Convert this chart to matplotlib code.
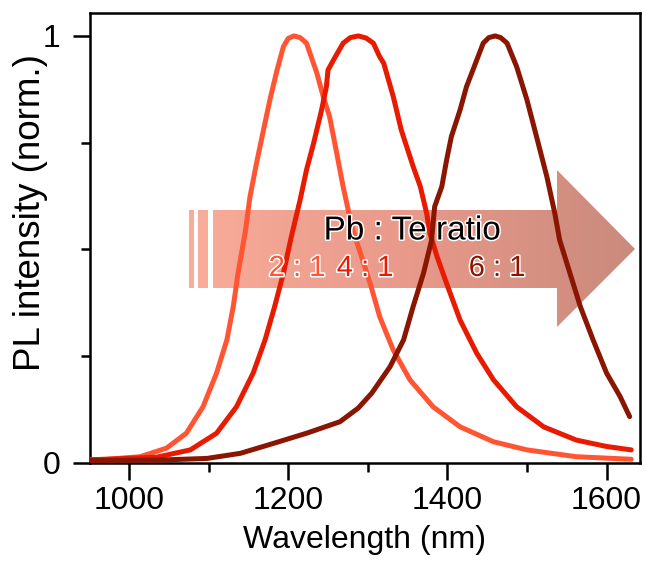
import numpy as np
import matplotlib
matplotlib.use("Agg")
import matplotlib.pyplot as plt
from matplotlib.patches import Polygon, Rectangle
from matplotlib.colors import LinearSegmentedColormap
import matplotlib.patheffects as pe

plt.rcParams['font.family'] = ['Liberation Sans', 'DejaVu Sans']

# ---- data ----
wl_21 = [951, 972, 1014, 1047, 1072, 1093, 1110, 1123, 1131, 1137, 1146, 1152, 1160, 1169,
         1177, 1186, 1194, 1200, 1207, 1215, 1223, 1236, 1244, 1252, 1261, 1269, 1280, 1303,
         1315, 1332, 1353, 1382, 1416, 1458, 1500, 1562, 1631]
pl_21 = [0.007, 0.008, 0.014, 0.034, 0.069, 0.131, 0.210, 0.288, 0.366, 0.444, 0.540, 0.623, 0.700, 0.780,
         0.850, 0.920, 0.975, 0.994, 1.0, 0.996, 0.983, 0.913, 0.858, 0.811, 0.725, 0.647, 0.553, 0.420,
         0.342, 0.264, 0.194, 0.131, 0.084, 0.049, 0.030, 0.014, 0.008]

wl_41 = [951, 972, 1035, 1077, 1110, 1135, 1156, 1171, 1183, 1194, 1204, 1215, 1223, 1232,
         1242, 1248, 1250, 1257, 1269, 1278, 1288, 1298, 1307, 1315, 1320, 1332, 1342, 1357,
         1366, 1374, 1378, 1387, 1399, 1416, 1437, 1458, 1487, 1521, 1562, 1600, 1631]
pl_41 = [0.007, 0.008, 0.013, 0.030, 0.069, 0.131, 0.210, 0.288, 0.366, 0.444, 0.530, 0.616, 0.686, 0.749,
         0.827, 0.881, 0.920, 0.944, 0.983, 0.996, 1.0, 0.995, 0.983, 0.951, 0.936, 0.858, 0.780, 0.694,
         0.647, 0.584, 0.538, 0.483, 0.420, 0.334, 0.256, 0.194, 0.131, 0.084, 0.053, 0.038, 0.030]

wl_61 = [951, 1035, 1098, 1140, 1181, 1223, 1265, 1288, 1305, 1328, 1345, 1357, 1370, 1380,
         1384, 1393, 1399, 1405, 1416, 1424, 1437, 1445, 1452, 1460, 1467, 1475, 1487, 1500,
         1512, 1525, 1535, 1541, 1554, 1567, 1583, 1600, 1617, 1629]
pl_61 = [0.005, 0.006, 0.010, 0.022, 0.045, 0.069, 0.096, 0.128, 0.163, 0.225, 0.288, 0.366, 0.444, 0.520,
         0.600, 0.647, 0.709, 0.764, 0.827, 0.881, 0.944, 0.983, 0.996, 1.0, 0.996, 0.983, 0.928, 0.850,
         0.764, 0.670, 0.584, 0.522, 0.444, 0.366, 0.288, 0.210, 0.155, 0.108]

ratio_labels = ["2 : 1", "4 : 1", "6 : 1"]
colors = ["#FF5533", "#E81A00", "#8A1500"]

# ---- figure ----
fig = plt.figure(figsize=(6.46, 5.61), dpi=100)
ax = fig.add_axes([90/646, 1 - 462.7/561, 550/646, 449.4/561])

for wl, pl, c in zip([wl_21, wl_41, wl_61], [pl_21, pl_41, pl_61], colors):
    ax.plot(wl, pl, color=c, lw=3.6, zorder=3, solid_capstyle='round', solid_joinstyle='round')

XLIM = (951, 1642)
YLIM = (0, 1.053)
ax.set_xlim(*XLIM)
ax.set_ylim(*YLIM)

ax.set_xticks([1000, 1200, 1400, 1600])
ax.set_xticks([1100, 1300, 1500], minor=True)
ax.set_yticks([0, 1])
ax.set_yticklabels(["0", "1"])
ax.set_yticks([0.25, 0.5, 0.75], minor=True)
ax.tick_params(axis='both', which='major', length=12, width=1.8, labelsize=23, direction='out')
ax.tick_params(axis='x', which='major', pad=5)
ax.tick_params(axis='y', which='major', pad=9)
ax.tick_params(axis='both', which='minor', length=6.5, width=1.8, direction='out')
for s in ax.spines.values():
    s.set_linewidth(1.8)

ax.set_xlabel("Wavelength (nm)", fontsize=23, labelpad=6)


# ---- gradient arrow (axes coordinates) ----
def fx(px):
    return (px - 90) / 550.0


def fy(py):
    return (462.7 - py) / 449.4


ax.text(fx(30), fy(213), "PL intensity (norm.)", transform=ax.transAxes, rotation=90,
        ha='center', va='center', fontsize=26.5)

arrow_pts = [(fx(213), fy(210)), (fx(557), fy(210)), (fx(557), fy(170)), (fx(635), fy(249)),
             (fx(557), fy(327)), (fx(557), fy(288)), (fx(213), fy(288))]
cmap = LinearSegmentedColormap.from_list("arr", ["#F9AC9A", "#E8998A", "#C98A7C"])
grad = np.linspace(0, 1, 256).reshape(1, -1)
poly = Polygon(arrow_pts, closed=True, transform=ax.transAxes, facecolor='none', edgecolor='none')
ax.add_patch(poly)
im = ax.imshow(grad, cmap=cmap, aspect='auto', extent=[fx(189), fx(636), fy(330), fy(168)],
               transform=ax.transAxes, zorder=1, interpolation='bilinear')
im.set_clip_path(poly)
for x0, x1 in [(189, 194), (198, 208)]:
    ax.add_patch(Rectangle((fx(x0), fy(288)), fx(x1) - fx(x0), fy(210) - fy(288),
                           transform=ax.transAxes, facecolor="#F9AC9A", edgecolor='none', zorder=1))
ax.set_xlim(*XLIM)
ax.set_ylim(*YLIM)
ax.set_aspect('auto')

stroke = [pe.withStroke(linewidth=2.2, foreground='white')]
ax.text(fx(412), fy(231), "Pb : Te ratio", transform=ax.transAxes, ha='center', va='center',
        fontsize=24, color='black', zorder=5, path_effects=stroke)
for lab, c, px in zip(ratio_labels, colors, [297, 365, 497]):
    ax.text(fx(px), fy(268), lab, transform=ax.transAxes, ha='center', va='center',
            fontsize=21, color=c, zorder=5, path_effects=stroke)

fig.savefig("out.png", dpi=100)
